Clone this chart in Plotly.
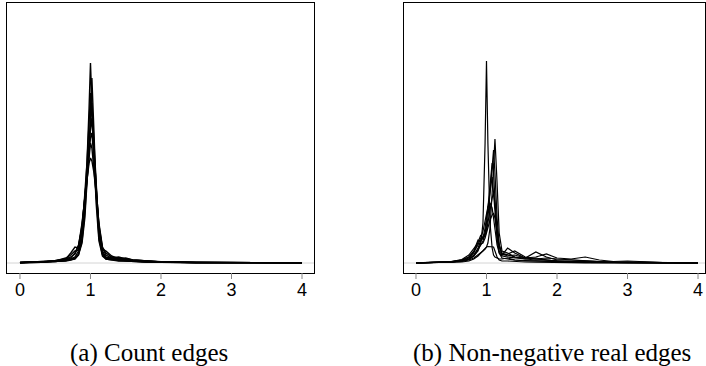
import plotly.graph_objects as go

# ---------------- data: panel (a) count edges ----------------
xa = [0.0, 0.3, 0.5, 0.65, 0.72, 0.78, 0.83, 0.88, 0.92, 0.95, 0.98, 1.0, 1.02,
      1.05, 1.08, 1.12, 1.17, 1.22, 1.3, 1.4, 1.5, 1.6, 1.8, 2.0, 2.5, 4.0]
a1 = [0.05, 0.1, 0.15, 0.25, 0.3, 0.4, 0.8, 2.5, 6, 10, 15.5, 20, 16,
      10.5, 6, 2.2, 0.7, 0.4, 0.3, 0.2, 0.2, 0.15, 0.1, 0.08, 0.05, 0.02]
a2 = [0.05, 0.1, 0.2, 0.3, 0.4, 0.6, 1.2, 3, 6.5, 10, 14, 17, 15,
      11, 7, 2.8, 0.9, 0.5, 0.4, 0.3, 0.25, 0.2, 0.12, 0.1, 0.05, 0.02]
a3 = [0.05, 0.1, 0.2, 0.3, 0.5, 1.0, 1.8, 3.5, 6.5, 9, 12, 13.5, 14.5,
      11, 7.5, 3.5, 1.2, 0.6, 0.5, 0.4, 0.3, 0.2, 0.15, 0.1, 0.05, 0.02]
a4 = [0.03, 0.08, 0.2, 0.4, 1.0, 1.6, 1.5, 3.8, 6.5, 8.5, 11, 12.5, 13,
      10.5, 7.5, 3.8, 1.5, 0.8, 0.5, 0.6, 0.4, 0.3, 0.2, 0.1, 0.05, 0.02]
a5 = [0.05, 0.1, 0.25, 0.4, 0.6, 0.9, 1.7, 4, 6.5, 8.3, 10, 10.5, 10.2,
      9, 7, 4, 1.6, 1.0, 0.6, 0.5, 0.4, 0.3, 0.2, 0.1, 0.06, 0.02]
a6 = [0.04, 0.08, 0.15, 0.25, 0.35, 0.5, 0.9, 2.2, 5, 8, 12, 14, 16,
      12, 7.5, 3, 1.0, 0.5, 0.4, 0.3, 0.35, 0.2, 0.1, 0.08, 0.04, 0.02]
a7 = [0.03, 0.08, 0.2, 0.5, 0.8, 1.2, 1.3, 3.2, 6, 8.5, 11, 12, 11.5,
      9.5, 7, 3.5, 1.4, 1.2, 0.7, 0.4, 0.5, 0.3, 0.2, 0.12, 0.05, 0.02]
a8 = [0.04, 0.08, 0.15, 0.2, 0.3, 0.45, 0.8, 2, 4.5, 7.5, 11.5, 15, 18.5,
      13, 7, 2.5, 0.8, 0.4, 0.3, 0.25, 0.2, 0.15, 0.1, 0.06, 0.03, 0.02]
series_a = [a1, a2, a3, a4, a5, a6, a7, a8]

# ---------------- data: panel (b) non-negative real edges ----------------
xb = [0.0, 0.3, 0.5, 0.65, 0.75, 0.82, 0.88, 0.92, 0.95, 0.98, 1.0, 1.02, 1.05,
      1.08, 1.1, 1.12, 1.15, 1.18, 1.22, 1.3, 1.4, 1.55, 1.7, 1.85, 2.0, 2.2,
      2.4, 2.6, 2.8, 3.0, 3.2, 3.5, 4.0]
b1 = [0.02, 0.05, 0.1, 0.2, 0.4, 0.7, 1.2, 2.0, 4, 12, 20.2, 12, 4,
      1.5, 0.8, 0.6, 0.5, 0.4, 0.4, 0.5, 0.3, 0.2, 0.2, 0.15, 0.1, 0.08,
      0.05, 0.04, 0.03, 0.03, 0.02, 0.02, 0.01]
b2 = [0.01, 0.03, 0.08, 0.15, 0.3, 0.5, 0.8, 1.0, 1.2, 1.4, 1.6, 2.0, 3.5,
      7, 10, 12.4, 8, 3, 1.2, 1.0, 0.6, 0.4, 0.5, 0.3, 0.2, 0.15,
      0.1, 0.06, 0.05, 0.04, 0.03, 0.02, 0.01]
b3 = [0.02, 0.05, 0.1, 0.2, 0.4, 0.8, 1.5, 2.2, 2.6, 3, 3.5, 4.5, 7,
      10, 11.3, 9, 4.5, 1.8, 0.8, 0.9, 1.2, 0.6, 0.4, 0.3, 0.2, 0.1,
      0.08, 0.05, 0.04, 0.04, 0.03, 0.02, 0.01]
b4 = [0.02, 0.06, 0.15, 0.3, 0.6, 1.2, 2.3, 2.2, 2.5, 3.5, 4.5, 5.5, 7.5,
      8.6, 7, 5, 2.5, 1.2, 0.8, 1.5, 1.0, 0.5, 1.1, 0.6, 0.3, 0.3,
      0.2, 0.1, 0.06, 0.05, 0.04, 0.02, 0.01]
b5 = [0.02, 0.05, 0.12, 0.25, 0.5, 1.0, 2.0, 2.8, 2.5, 2.7, 3.2, 4, 5.5,
      6.5, 7, 6, 3.5, 1.8, 1.0, 0.8, 0.6, 0.5, 0.6, 0.9, 0.5, 0.4,
      0.6, 0.3, 0.15, 0.2, 0.15, 0.05, 0.02]
b6 = [0.01, 0.03, 0.06, 0.1, 0.2, 0.4, 0.7, 1.0, 1.3, 1.5, 1.6, 1.65, 1.65,
      1.65, 1.6, 1.2, 0.6, 0.3, 0.2, 0.2, 0.15, 0.1, 0.08, 0.05, 0.04, 0.03,
      0.02, 0.02, 0.01, 0.01, 0.01, 0.01, 0.0]
b7 = [0.02, 0.05, 0.12, 0.3, 0.6, 1.1, 1.8, 2.5, 3.2, 4.2, 5, 5.6, 6,
      5.5, 4.5, 3.2, 1.8, 1.0, 0.7, 0.6, 0.5, 0.4, 0.3, 0.3, 0.2, 0.15,
      0.12, 0.1, 0.08, 0.1, 0.08, 0.04, 0.02]
b8 = [0.01, 0.04, 0.1, 0.2, 0.35, 0.7, 1.3, 1.8, 2.2, 3, 4, 5.5, 8,
      10, 9, 6, 2.5, 1.0, 0.5, 0.4, 0.3, 0.25, 0.2, 0.15, 0.1, 0.08,
      0.06, 0.05, 0.04, 0.03, 0.02, 0.02, 0.01]
b9 = [0.02, 0.05, 0.15, 0.35, 0.8, 1.4, 2.0, 1.9, 2.0, 2.5, 3, 3.6, 4.3,
      4.8, 5, 4.5, 3, 1.6, 0.9, 0.7, 0.8, 0.5, 0.4, 0.5, 0.4, 0.3,
      0.25, 0.15, 0.1, 0.08, 0.06, 0.03, 0.02]
series_b = [b1, b2, b3, b4, b5, b6, b7, b8, b9]

tick_vals = [0, 1, 2, 3, 4]
tick_text = ["0", "1", "2", "3", "4"]
captions = ["(a) Count edges", "(b) Non-negative real edges"]

# ---------------- figure ----------------
W, H = 706, 366
BOX_TOP, BOX_BOT = 3, 273
fig = go.Figure()
for ys in series_a:
    fig.add_trace(go.Scatter(x=xa, y=ys, mode="lines", xaxis="x", yaxis="y",
                             line=dict(color="black", width=1.4), showlegend=False,
                             hoverinfo="skip"))
for ys in series_b:
    fig.add_trace(go.Scatter(x=xb, y=ys, mode="lines", xaxis="x2", yaxis="y2",
                             line=dict(color="black", width=1.2), showlegend=False,
                             hoverinfo="skip"))

ydom = [(H - BOX_BOT) / H, (H - BOX_TOP) / H]
xcommon = dict(showline=True, mirror=True, linecolor="black", linewidth=1,
               showgrid=False, zeroline=False, ticks="", tickvals=tick_vals,
               ticktext=tick_text,
               tickfont=dict(family="Liberation Sans, Arial, sans-serif",
                             size=18, color="black"))
ycommon = dict(showline=True, mirror=True, linecolor="black", linewidth=1,
               showgrid=False, zeroline=False, showticklabels=False,
               ticks="", range=[-1, 26], domain=ydom)

shapes = [
    dict(type="line", xref="x domain", yref="y", x0=0, x1=1, y0=0, y1=0,
         line=dict(color="#d4d4d4", width=1), layer="below"),
    dict(type="line", xref="x2 domain", yref="y2", x0=0, x1=1, y0=0, y1=0,
         line=dict(color="#d4d4d4", width=1), layer="below"),
]
for xr in ["x", "x2"]:
    for tv in tick_vals:
        shapes.append(dict(type="line", xref=xr, yref="paper", x0=tv, x1=tv,
                           y0=(H - BOX_BOT) / H, y1=(H - BOX_BOT - 6) / H,
                           line=dict(color="#888888", width=1)))

cap_font = dict(family="Liberation Serif, DejaVu Serif, serif", size=25, color="black")
fig.update_layout(
    width=W, height=H, margin=dict(l=0, r=0, t=0, b=0),
    paper_bgcolor="white", plot_bgcolor="white",
    xaxis=dict(domain=[7 / W, 314 / W], range=[-0.184, 4.17], anchor="y", **xcommon),
    yaxis=dict(anchor="x", **ycommon),
    xaxis2=dict(domain=[404 / W, 705 / W], range=[-0.17, 4.099], anchor="y2", **xcommon),
    yaxis2=dict(anchor="x2", **ycommon),
    shapes=shapes,
    annotations=[
        dict(text=captions[0], xref="paper", yref="paper", x=149 / W, y=(H - 353) / H,
             xanchor="center", yanchor="middle", showarrow=False, font=cap_font),
        dict(text=captions[1], xref="paper", yref="paper", x=552 / W, y=(H - 353) / H,
             xanchor="center", yanchor="middle", showarrow=False, font=cap_font),
    ],
)

fig.write_html("out.html")
